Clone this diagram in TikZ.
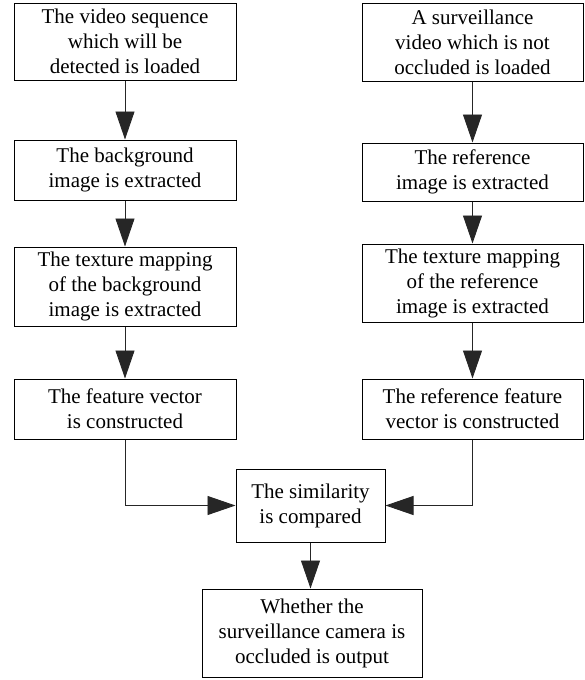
\documentclass[tikz,border=0pt]{standalone}
\usepackage{fontspec}
\setmainfont{Liberation Serif}
\usetikzlibrary{arrows.meta}

\begin{document}
\begin{tikzpicture}[x=1pt,y=-1pt,line width=0.9pt,>={Triangle[length=28pt,width=19pt]},
  box/.style={draw,line width=1pt,align=center,inner sep=0pt,
    font=\fontsize{21}{25}\selectfont},
  flow/.style={->,draw=black!85}]
\useasboundingbox (0,0) rectangle (585,680);
% ---------- left column: sequence under test ----------
\node[box,minimum width=222pt,minimum height=77pt] (seq) at (125,41.5)
  {The video sequence\\which will be\\detected is loaded};
\node[box,minimum width=222pt,minimum height=60pt] (bg) at (125,170)
  {The background\\image is extracted};
\node[box,minimum width=222pt,minimum height=79pt] (bgtex) at (125,286.5)
  {The texture mapping\\of the background\\image is extracted};
\node[box,minimum width=222pt,minimum height=60pt] (feat) at (125,409)
  {The feature vector\\is constructed};
% ---------- right column: unoccluded reference ----------
\node[box,minimum width=221pt,minimum height=78pt] (ref) at (472.5,42)
  {A surveillance\\video which is not\\occluded is loaded};
\node[box,minimum width=221pt,minimum height=58pt] (refimg) at (472.5,172)
  {The reference\\image is extracted};
\node[box,minimum width=221pt,minimum height=78pt] (reftex) at (472.5,283)
  {The texture mapping\\of the reference\\image is extracted};
\node[box,minimum width=221pt,minimum height=60pt] (reffeat) at (472.5,409)
  {The reference feature\\vector is constructed};
% ---------- comparison and result ----------
\node[box,minimum width=149pt,minimum height=73pt] (sim) at (310.5,505.5)
  {The similarity\\is compared};
\node[box,minimum width=220pt,minimum height=88pt] (out) at (312,633)
  {Whether the\\surveillance camera is\\occluded is output};
% ---------- arrows ----------
\draw[flow] (seq) -- (bg);
\draw[flow] (bg) -- (bgtex);
\draw[flow] (bgtex) -- (feat);
\draw[flow] (ref) -- (refimg);
\draw[flow] (refimg) -- (reftex);
\draw[flow] (reftex) -- (reffeat);
\draw[flow] (feat.south) |- (sim.west);
\draw[flow] (reffeat.south) |- (sim.east);
\draw[flow] (sim.south) -- (sim.south |- out.north);
\end{tikzpicture}
\end{document}
